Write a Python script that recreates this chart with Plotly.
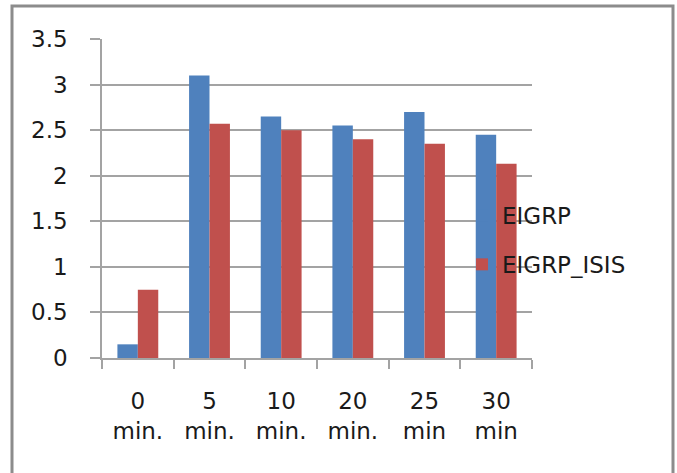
import plotly.graph_objects as go

# Convergence time per interval, two routing setups
categories = ["0<br>min.", "5<br>min.", "10<br>min.", "20<br>min.", "25<br>min", "30<br>min"]
eigrp = [0.15, 3.1, 2.65, 2.55, 2.7, 2.45]
eigrp_isis = [0.75, 2.57, 2.5, 2.4, 2.35, 2.13]
y_ticks = [0, 0.5, 1, 1.5, 2, 2.5, 3, 3.5]
y_tick_text = ["0", "0.5", "1", "1.5", "2", "2.5", "3", "3.5"]

W, H = 677, 473
L, R, T, B = 102, 145, 39, 115
pw, ph = W - L - R, H - T - B

FONT = dict(family="DejaVu Sans", size=23, color="#1a1a1a")
GRID = "#a3a3a3"

fig = go.Figure()
fig.add_trace(go.Bar(x=categories, y=eigrp, name="EIGRP", legendgroup="a",
                     marker=dict(color="#4F81BD", line=dict(width=0))))
fig.add_trace(go.Bar(x=categories, y=eigrp_isis, name="EIGRP_ISIS", legendgroup="b",
                     marker=dict(color="#C0504D", line=dict(width=0))))

# outer chart frame
def px_x(p):
    return (p - L) / pw

def px_y(p):
    return (H - B - p) / ph

fig.add_shape(type="rect", xref="paper", yref="paper",
              x0=px_x(12), x1=px_x(673), y0=px_y(490), y1=px_y(6),
              line=dict(color="#8c8c8c", width=3), fillcolor="rgba(0,0,0,0)")

fig.update_layout(
    width=W, height=H,
    margin=dict(l=L, r=R, t=T, b=B),
    paper_bgcolor="white", plot_bgcolor="white",
    font=FONT,
    barmode="group", bargap=0.43, bargroupgap=0,
    showlegend=True,
    legend=dict(x=px_x(462), y=px_y(194), xanchor="left", yanchor="top",
                bgcolor="rgba(0,0,0,0)", font=FONT, tracegroupgap=16,
                itemwidth=30),
    xaxis=dict(type="category", showgrid=False, showline=True, linecolor=GRID,
               linewidth=1.5, ticks="outside", tickson="boundaries",
               ticklen=9, tickcolor=GRID, tickwidth=1.5,
               ticklabelstandoff=22, tickfont=FONT),
    yaxis=dict(range=[0, 3.5], tickvals=y_ticks, ticktext=y_tick_text,
               showgrid=True, gridcolor=GRID, gridwidth=1.5,
               showline=True, linecolor=GRID, linewidth=1.5,
               ticks="outside", ticklen=10, tickcolor=GRID, tickwidth=1.5,
               ticklabelstandoff=18, tickfont=FONT, zeroline=False),
)

fig.write_html("out.html")
